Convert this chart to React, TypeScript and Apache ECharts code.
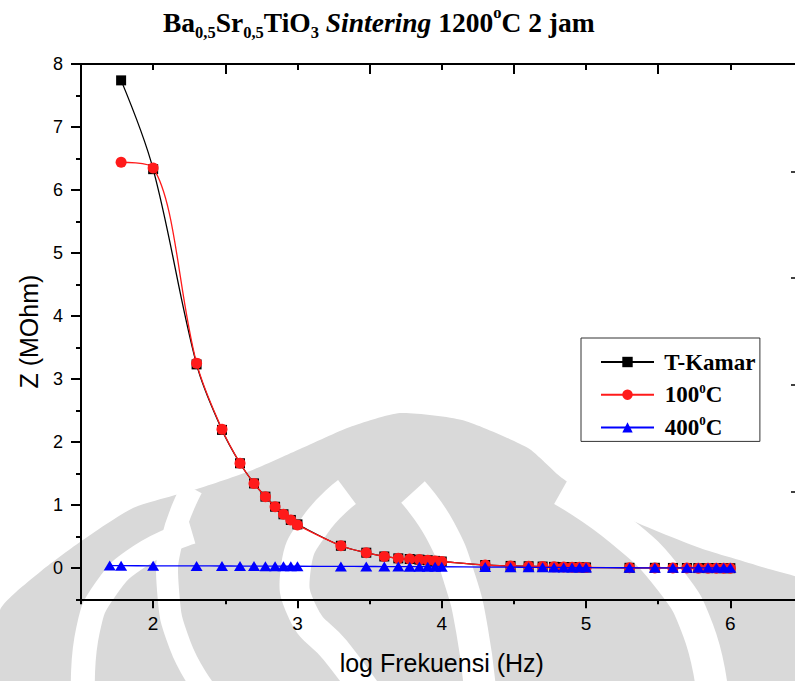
import React, { useEffect, useRef } from 'react';
import * as echarts from 'echarts';

// log10 of measuring frequency (Hz)
const logFreq = [1.778, 2, 2.301, 2.477, 2.602, 2.699, 2.778, 2.845, 2.903, 2.954, 3, 3.301, 3.477, 3.602, 3.699, 3.778, 3.845, 3.903, 3.954, 4, 4.301, 4.477, 4.602, 4.699, 4.778, 4.845, 4.903, 4.954, 5, 5.301, 5.477, 5.602, 5.699, 5.778, 5.845, 5.903, 5.954, 6];
const logFreq400 = [1.699, 1.778, 2, 2.301, 2.477, 2.602, 2.699, 2.778, 2.845, 2.903, 2.954, 3, 3.301, 3.477, 3.602, 3.699, 3.778, 3.845, 3.903, 3.954, 4, 4.301, 4.477, 4.602, 4.699, 4.778, 4.845, 4.903, 4.954, 5, 5.301, 5.477, 5.602, 5.699, 5.778, 5.845, 5.903, 5.954, 6];

// Z (MOhm)
const zKamar = [7.74, 6.33, 3.23, 2.19, 1.66, 1.34, 1.13, 0.97, 0.85, 0.76, 0.69, 0.35, 0.24, 0.18, 0.15, 0.14, 0.13, 0.12, 0.11, 0.10, 0.045, 0.03, 0.025, 0.02, 0.015, 0.012, 0.01, 0.008, 0.006, 0.0, 0.0, -0.002, -0.003, -0.004, -0.005, -0.005, -0.006, -0.006];
const z100 = [6.44, 6.35, 3.25, 2.20, 1.66, 1.34, 1.13, 0.97, 0.85, 0.76, 0.68, 0.35, 0.24, 0.18, 0.15, 0.14, 0.13, 0.12, 0.11, 0.10, 0.045, 0.03, 0.025, 0.02, 0.015, 0.012, 0.01, 0.008, 0.005, 0.0, -0.002, -0.003, -0.004, -0.005, -0.005, -0.006, -0.006, -0.006];
const z400 = [0.035, 0.034, 0.032, 0.030, 0.029, 0.028, 0.027, 0.026, 0.026, 0.025, 0.025, 0.025, 0.022, 0.021, 0.02, 0.019, 0.018, 0.018, 0.017, 0.017, 0.017, 0.012, 0.01, 0.008, 0.007, 0.006, 0.005, 0.004, 0.003, 0.003, 0.001, 0, 0, 0, 0, 0, 0, 0, 0];

const xMajor = [2, 3, 4, 5, 6];
const yMajor = [0, 1, 2, 3, 4, 5, 6, 7, 8];

const seriesNames = ['T-Kamar', '100C', '400C'];
const legendLabels: Record<string, string> = {
  'T-Kamar': ' T-Kamar',
  '100C': ' 100{sup|0}C',
  '400C': ' 400{sup|0}C',
};

const GREY = '#d9d9d9';
const axisLineStyle = { color: '#000', width: 2 };

export default function App() {
  const ref = useRef<HTMLDivElement>(null);
  useEffect(() => {
    if (!ref.current) return;
    const chart = echarts.init(ref.current, null, { renderer: 'svg' });
    const stripe = (pts: number[][], w: number) => ({
      type: 'polyline', z: -9, silent: true,
      shape: { points: pts, smooth: 0.5 },
      style: { stroke: '#fff', lineWidth: w, fill: null },
    });
    const option: any = {
      animation: false,
      backgroundColor: '#fff',
      title: {
        left: 163, top: 4, padding: 0,
        text: 'Ba{sub|0,5}Sr{sub|0,5}TiO{sub|3} {it|Sintering} 1200{sup|o}C 2 jam',
        textStyle: {
          fontFamily: 'Liberation Serif', fontWeight: 'bold', fontSize: 27.5, lineHeight: 37, color: '#000',
          rich: {
            sub: { fontFamily: 'Liberation Serif', fontWeight: 'bold', fontSize: 16.5, lineHeight: 16, verticalAlign: 'bottom', color: '#000' },
            sup: { fontFamily: 'Liberation Serif', fontWeight: 'bold', fontSize: 16.5, lineHeight: 16, verticalAlign: 'top', color: '#000' },
            it: { fontFamily: 'Liberation Serif', fontWeight: 'bold', fontStyle: 'italic', fontSize: 27.5, lineHeight: 37, color: '#000' },
          },
        },
      },
      legend: {
        left: 581, top: 338, orient: 'vertical',
        padding: [11, 4, 1, 19], itemGap: 6.7, itemWidth: 53, itemHeight: 13,
        borderColor: '#333', borderWidth: 1, backgroundColor: '#fff',
        data: seriesNames,
        formatter: (n: string) => legendLabels[n],
        textStyle: {
          fontFamily: 'Liberation Serif', fontWeight: 'bold', fontSize: 23, lineHeight: 26, color: '#000',
          rich: { sup: { fontFamily: 'Liberation Serif', fontWeight: 'bold', fontSize: 13, lineHeight: 13, verticalAlign: 'top', color: '#000' } },
        },
      },
      grid: { left: 81, right: 7.5, top: 64, bottom: 81.7 },
      xAxis: [
        {
          type: 'value', position: 'bottom', min: 1.5, max: 6.5,
          axisLine: { show: true, onZero: false, lineStyle: axisLineStyle },
          axisTick: { show: true, customValues: xMajor, length: 9, lineStyle: axisLineStyle },
          axisLabel: { customValues: xMajor, margin: 15, fontFamily: 'Liberation Sans', fontSize: 19, color: '#000' },
          splitLine: { show: false },
          name: 'log Frekuensi (Hz)', nameLocation: 'middle', nameGap: 51,
          nameTextStyle: { fontFamily: 'Liberation Sans', fontSize: 25, color: '#000' },
        },
        {
          type: 'value', position: 'bottom', min: 1.5, max: 6.5, interval: 1,
          axisLine: { show: false, onZero: false },
          axisTick: { show: true, length: 5, lineStyle: axisLineStyle },
          axisLabel: { show: false }, splitLine: { show: false },
        },
        {
          type: 'value', position: 'top', min: 1.5, max: 6.5, interval: 1,
          axisLine: { show: true, onZero: false, lineStyle: axisLineStyle },
          axisTick: { show: true, inside: true, length: 10, lineStyle: axisLineStyle },
          minorTick: { show: true, splitNumber: 2, length: 6, lineStyle: axisLineStyle },
          axisLabel: { show: false }, splitLine: { show: false }, minorSplitLine: { show: false },
        },
      ],
      yAxis: [
        {
          type: 'value', position: 'left', min: -0.5, max: 8,
          axisLine: { show: true, onZero: false, lineStyle: axisLineStyle },
          axisTick: { show: true, customValues: yMajor, length: 10, lineStyle: axisLineStyle },
          axisLabel: { customValues: yMajor, margin: 18, fontFamily: 'Liberation Sans', fontSize: 18, color: '#000' },
          splitLine: { show: false },
          name: 'Z (MOhm)', nameLocation: 'middle', nameGap: 40,
          nameTextStyle: { fontFamily: 'Liberation Sans', fontSize: 25, color: '#000' },
        },
        {
          type: 'value', position: 'left', min: -0.5, max: 8, interval: 1,
          axisLine: { show: false, onZero: false },
          axisTick: { show: true, length: 5, lineStyle: axisLineStyle },
          axisLabel: { show: false }, splitLine: { show: false },
        },
      ],
      graphic: [
        {
          type: 'polygon', z: -10, silent: true,
          shape: { points: [[0, 610], [40, 572], [80, 542], [133, 508], [197, 489], [250, 471], [300, 449], [350, 427], [400, 413], [462, 420], [528, 448], [562, 478], [620, 515], [700, 548], [762, 567], [810, 585], [810, 681], [0, 681]], smooth: 0.2 },
          style: { fill: GREY },
        },
        stripe([[83, 690], [88, 630], [105, 590], [140, 556], [192, 532]], 24),
        stripe([[192, 488], [172, 540], [168, 590], [180, 645], [205, 690]], 22),
        stripe([[347, 492], [315, 525], [296, 567], [303, 613], [335, 650], [365, 690]], 30),
        stripe([[413, 492], [440, 530], [460, 580], [472, 630], [480, 690]], 32),
        stripe([[562, 490], [620, 530], [670, 580], [698, 630], [712, 690]], 32),
        ...[172, 278, 385, 492].map((y) => ({
          type: 'line', silent: true, shape: { x1: 791, y1: y, x2: 797, y2: y },
          style: { stroke: '#000', lineWidth: 1.5 },
        })),
      ],
      series: [
        {
          name: 'T-Kamar', type: 'line', xAxisIndex: 0, yAxisIndex: 0,
          data: logFreq.map((x, i) => [x, zKamar[i]]),
          smooth: 0.35, symbol: 'rect', symbolSize: 10,
          itemStyle: { color: '#000' }, lineStyle: { color: '#000', width: 1.3 }, z: 2,
        },
        {
          name: '100C', type: 'line', xAxisIndex: 0, yAxisIndex: 0,
          data: logFreq.map((x, i) => [x, z100[i]]),
          smooth: 0.35, symbol: 'circle', symbolSize: 11,
          itemStyle: { color: '#ff1a1a' }, lineStyle: { color: '#ff1a1a', width: 1.3 }, z: 3,
        },
        {
          name: '400C', type: 'line', xAxisIndex: 0, yAxisIndex: 0,
          data: logFreq400.map((x, i) => [x, z400[i]]),
          smooth: 0.35, symbol: 'triangle', symbolSize: [12, 10],
          itemStyle: { color: '#0000ff' }, lineStyle: { color: '#0000ff', width: 1.3 }, z: 4,
        },
      ],
    };
    chart.setOption(option);
    return () => chart.dispose();
  }, []);
  return (
    <div style={{ position: 'absolute', left: 0, top: 0, width: 795, height: 681, overflow: 'hidden', background: '#fff' }}>
      <div ref={ref} style={{ width: 810, height: 681 }} />
    </div>
  );
}
